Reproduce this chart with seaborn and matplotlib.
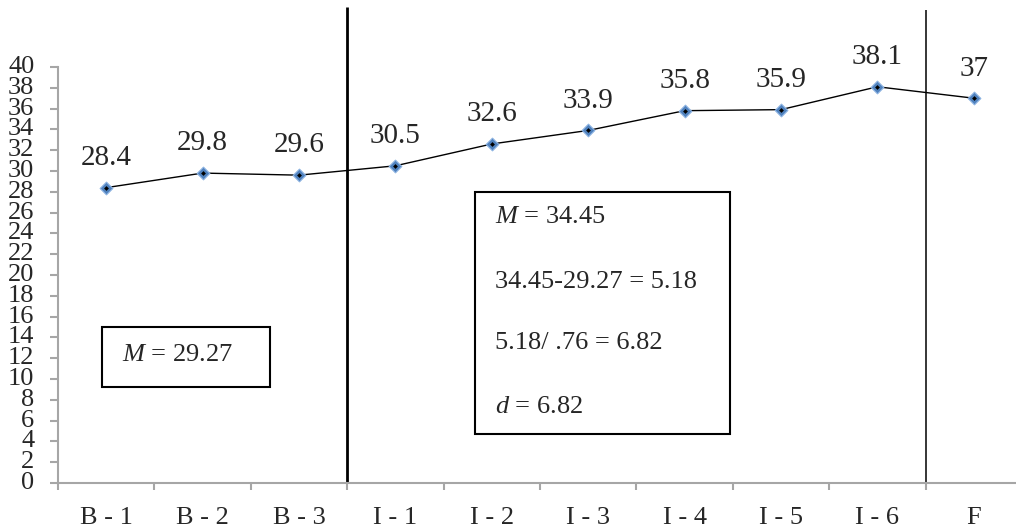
import matplotlib
matplotlib.use("Agg")
import matplotlib.pyplot as plt
import numpy as np
import pandas as pd
import seaborn as sns
from matplotlib.patches import Rectangle

# Данные
phases = ["B - 1", "B - 2", "B - 3", "I - 1", "I - 2", "I - 3", "I - 4", "I - 5", "I - 6", "F"]
scores = [28.4, 29.8, 29.6, 30.5, 32.6, 33.9, 35.8, 35.9, 38.1, 37]
value_labels = ["28.4", "29.8", "29.6", "30.5", "32.6", "33.9", "35.8", "35.9", "38.1", "37"]
phase_breaks = [2.5, 8.5]
baseline_note = r"$M$ = 29.27"
intervention_notes = [r"$M$ = 34.45", "34.45-29.27 = 5.18", "5.18/ .76 = 6.82", r"$d$ = 6.82"]

sns.set_style("ticks")
plt.rcParams["font.family"] = ["Liberation Serif", "DejaVu Serif"]
plt.rcParams["mathtext.fontset"] = "custom"
plt.rcParams["mathtext.rm"] = "Liberation Serif"
plt.rcParams["mathtext.it"] = "Liberation Serif:italic"

df = pd.DataFrame({"phase": phases, "score": scores})
df["pos"] = np.arange(len(df))

W, H = 1016, 531
fig = plt.figure(figsize=(W / 100, H / 100), dpi=100)
ax = fig.add_axes([58 / W, 48 / H, 964 / W, 416 / H])

sns.lineplot(data=df, x="pos", y="score", color="black", lw=1, ax=ax, zorder=3)
sns.scatterplot(data=df, x="pos", y="score", marker="D", s=42, color="#4f81bd",
                edgecolor="#8db3e2", linewidth=0.8, ax=ax, zorder=4)
sns.scatterplot(data=df, x="pos", y="score", marker="D", s=6, color="black",
                linewidth=0, ax=ax, zorder=5)

for x, y, lab in zip(df["pos"], df["score"], value_labels):
    ax.annotate(lab, (x, y), xytext=(0, 12), textcoords="offset points",
                ha="center", va="bottom", fontsize=21)

# Линии смены фаз
ax.vlines(phase_breaks[0], 0, 45.8, color="black", lw=2, clip_on=False, zorder=2)
ax.vlines(phase_breaks[1], 0, 45.5, color="black", lw=1.1, clip_on=False, zorder=2)

ax.set_xlim(-0.5, len(phases) - 0.5)
ax.set_ylim(0, 40)
ax.set_yticks(np.arange(0, 41, 2))
ax.set_xticks(np.arange(-0.5, len(phases), 1))
ax.set_xticklabels([])
ax.set_xticks(df["pos"], minor=True)
ax.set_xticklabels(phases, minor=True)
ax.tick_params(axis="x", which="major", length=5, width=1.5, color="#a6a6a6")
ax.tick_params(axis="x", which="minor", length=0, pad=17, labelsize=19)
ax.tick_params(axis="y", length=6, width=1.5, color="#a6a6a6", pad=11, labelsize=19)
for lab in ax.get_yticklabels():
    lab.set_va("center")
ax.set_xlabel("")
ax.set_ylabel("")
sns.despine(ax=ax)
for side in ("left", "bottom"):
    ax.spines[side].set_color("#a6a6a6")
    ax.spines[side].set_linewidth(1.5)

# Блоки с пояснениями
fig.patches.append(Rectangle((102 / W, 1 - 387 / H), 168 / W, 60 / H,
                             transform=fig.transFigure, fill=False, lw=1.5, ec="black"))
fig.text(122 / W, 1 - 355 / H, baseline_note, fontsize=19, va="center")

fig.patches.append(Rectangle((475 / W, 1 - 434 / H), 255 / W, 242 / H,
                             transform=fig.transFigure, fill=False, lw=1.5, ec="black"))
for yy, note in zip([217, 282, 343, 407], intervention_notes):
    fig.text(495 / W, 1 - yy / H, note, fontsize=19, va="center")

fig.savefig("out.png", dpi=100)
